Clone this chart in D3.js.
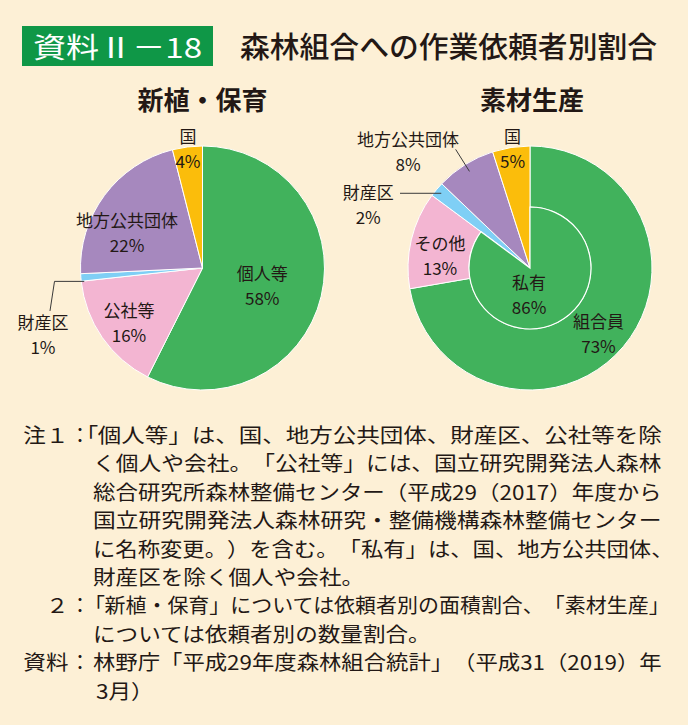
<!DOCTYPE html>
<html><head><meta charset="utf-8">
<script src="https://cdn.jsdelivr.net/npm/d3@7"></script>
<style>
html,body{margin:0;padding:0;background:#fdf0d6;}
svg{display:block;}
text{font-family:"Noto Sans CJK JP","Noto Sans",sans-serif;text-spacing-trim:space-all;}
.palt{font-feature-settings:"palt" 1;}
</style></head>
<body>
<svg id="c" width="688" height="725"></svg>
<script>
// ---- data ----
const leftTitle = "新植・保育";
const leftCats = ["個人等","公社等","財産区","地方公共団体","国"];
const leftVals = [58,16,1,22,4];
const rightTitle = "素材生産";
const rightCats = ["組合員","その他","財産区","地方公共団体","国"];
const rightVals = [73,13,2,8,5];
const innerCats = ["私有"];
const innerVals = [86];
const headerTag = "資料Ⅱ－18";
const headerTitle = "森林組合への作業依頼者別割合";
const notePrefixes = ["注１","","","","","","２","","資料",""];
const noteLines = [
 "「個人等」は、国、地方公共団体、財産区、公社等を除",
 "く個人や会社。「公社等」には、国立研究開発法人森林",
 "総合研究所森林整備センター（平成29（2017）年度から",
 "国立研究開発法人森林研究・整備機構森林整備センター",
 "に名称変更。）を含む。「私有」は、国、地方公共団体、",
 "財産区を除く個人や会社。",
 "「新植・保育」については依頼者別の面積割合、「素材生産」",
 "については依頼者別の数量割合。",
 "林野庁「平成29年度森林組合統計」（平成31（2019）年",
 "3月）"
];

// ---- styles / layout ----
const colors = {"個人等":"#41b25c","組合員":"#41b25c","私有":"#41b25c","公社等":"#f3b5d2","その他":"#f3b5d2",
  "財産区":"#7fcff5","地方公共団体":"#a688be","国":"#fbbd0b"};
const W=688,H=725,R=122,Rin=61;
const txt="#231815";
const svg=d3.select("#c");
svg.append("rect").attr("width",W).attr("height",H).attr("fill","#fdf0d6");

// header
svg.append("rect").attr("x",22).attr("y",26).attr("width",191).attr("height",40).attr("fill","#0f9747");
svg.append("text").attr("x",33).attr("y",46).attr("dominant-baseline","central")
  .attr("font-size",28).attr("fill","#fff").attr("textLength",169).attr("lengthAdjust","spacingAndGlyphs").text(headerTag);
svg.append("text").attr("x",240).attr("y",45).attr("dominant-baseline","central")
  .attr("font-size",29).attr("font-weight",500).attr("fill",txt).attr("textLength",417).attr("lengthAdjust","spacingAndGlyphs").text(headerTitle);

const rad=a=>a*Math.PI/180;
function polar(cx,cy,r,deg){return [cx+r*Math.sin(rad(deg)), cy-r*Math.cos(rad(deg))];}

function label(g,x,y,name,pct){
  g.append("text").attr("x",x).attr("y",y-12.5).attr("text-anchor","middle").attr("dominant-baseline","central")
   .attr("font-size",17).attr("fill",txt).text(name);
  g.append("text").attr("x",x).attr("y",y+12.5).attr("text-anchor","middle").attr("dominant-baseline","central")
   .attr("font-size",17).attr("fill",txt).text(pct+"%");
}
const lineStyle=s=>s.attr("fill","none").attr("stroke","#3a3a3a").attr("stroke-width",1);

// label layout: angle offset from slice mid (deg), radius
const leftLab={"個人等":[2.1,62],"公社等":[-1.8,91.5],"財産区":[-18,172.6],"地方公共団体":[-11.3,83.4],"国":[0.2,120.4]};
const rightLab={"組合員":[3.4,94.4],"その他":[-5.2,90.9],"財産区":[-18.5,174],"地方公共団体":[-14.2,168.7],"国":[0.6,120.8]};

const pie=d3.pie().sort(null).value(d=>d);
const deg=a=>a*180/Math.PI;

// ---- left pie ----
{
  const cx=202.5, cy=268;
  const g=svg.append("g");
  g.append("text").attr("x",cx).attr("y",cy-170).attr("text-anchor","middle").attr("dominant-baseline","central")
   .attr("font-size",26).attr("font-weight",700).attr("fill",txt).text(leftTitle);
  const pd=pie(leftVals);
  const arc=d3.arc().innerRadius(0).outerRadius(R);
  const pg=g.append("g").attr("transform",`translate(${cx},${cy})`);
  pg.selectAll("path").data(pd).enter().append("path").attr("d",arc)
    .attr("fill",(d,i)=>colors[leftCats[i]]).attr("stroke","#fff").attr("stroke-width",1);
  pd.forEach((d,i)=>{
    const c=leftCats[i], mid=deg((d.startAngle+d.endAngle)/2), L=leftLab[c];
    const [x,y]=polar(cx,cy,L[1],mid+L[0]);
    label(g,x,y,c,leftVals[i]);
    if(c==="財産区"){
      const A=polar(cx,cy,119,mid-2);
      g.append("path").attr("d",d3.line()([A,[cx-148,A[1]],[x+7,y-23]])).call(lineStyle);
    }
  });
}

// ---- right pie ----
{
  const cx=530, cy=268;
  const g=svg.append("g");
  g.append("text").attr("x",cx+2).attr("y",cy-170).attr("text-anchor","middle").attr("dominant-baseline","central")
   .attr("font-size",26).attr("font-weight",700).attr("fill",txt).text(rightTitle);
  const pd=pie(rightVals);
  const pg=g.append("g").attr("transform",`translate(${cx},${cy})`);
  const ring=d3.arc().innerRadius(Rin).outerRadius(R);
  const full=d3.arc().innerRadius(0).outerRadius(R);
  const nPriv=2; // 組合員 + その他 make up 私有
  pg.selectAll("path.s").data(pd).enter().append("path").attr("class","s")
    .attr("d",(d,i)=>i<nPriv?ring(d):full(d))
    .attr("fill",(d,i)=>colors[rightCats[i]]).attr("stroke","#fff").attr("stroke-width",1);
  const total=d3.sum(rightVals);
  const innerArc=d3.arc().innerRadius(0).outerRadius(Rin);
  const inD={startAngle:0,endAngle:2*Math.PI*innerVals[0]/total};
  pg.append("path").attr("d",innerArc(inD)).attr("fill",colors["私有"]).attr("stroke","#fff").attr("stroke-width",1.2);
  const midIn=deg((inD.startAngle+inD.endAngle)/2);
  const [ix,iy]=polar(cx,cy,26.5,midIn+28.7);
  label(g,ix,iy,innerCats[0],innerVals[0]);
  pd.forEach((d,i)=>{
    const c=rightCats[i], mid=deg((d.startAngle+d.endAngle)/2), L=rightLab[c];
    const [x,y]=polar(cx,cy,L[1],mid+L[0]);
    label(g,x,y,c,rightVals[i]);
    if(c==="財産区"){
      const A=polar(cx,cy,116,mid);
      g.append("path").attr("d",d3.line()([A,[cx-130,A[1]]])).call(lineStyle);
    }
    if(c==="地方公共団体"){
      g.append("path").attr("d",d3.line()([polar(cx,cy,114,mid),polar(cx,cy,140,mid)])).call(lineStyle);
    }
  });
}

// ---- notes ----
{
  const g=svg.append("g");
  const y0=434, dy=28.4, fs=20, sx0=1.13;
  // start: screen x of the body text; right: target right edge (null = natural width)
  const layout=[
    {start:86,right:662},{start:93,right:662},{start:93,right:662},{start:93,right:662},
    {start:93,right:674},{start:93,right:null},{start:94,right:670},{start:93,right:null},
    {start:93,right:662},{start:96,right:null}];
  noteLines.forEach((s,i)=>{
    const y=y0+i*dy, L=layout[i];
    if(notePrefixes[i]){
      g.append("text").attr("transform",`translate(68.5,${y}) scale(${sx0},1)`).attr("text-anchor","end")
       .attr("dominant-baseline","central").attr("font-size",fs).attr("fill",txt).text(notePrefixes[i]);
      g.append("text").attr("class","palt").attr("x",80).attr("y",y).attr("text-anchor","middle")
       .attr("dominant-baseline","central").attr("font-size",fs).attr("fill",txt).text("：");
    }
    const t=g.append("text").attr("dominant-baseline","central").attr("font-size",fs).attr("fill",txt);
    if(s.startsWith("「") && notePrefixes[i]){
      t.append("tspan").attr("class","palt").text("「");
      t.append("tspan").text(s.slice(1));
    } else t.text(s);
    let sx=sx0;
    if(L.right){const bb=t.node().getBBox(); sx=(L.right-L.start)/(bb.x+bb.width);}
    t.attr("transform",`translate(${L.start},${y}) scale(${sx},1)`);
  });
}
</script>
</body></html>
